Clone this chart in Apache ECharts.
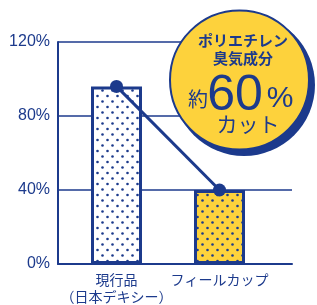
<!DOCTYPE html>
<html>
<head>
<meta charset="utf-8">
<script src="https://cdn.jsdelivr.net/npm/echarts@6/dist/echarts.min.js"></script>
<style>
html,body{margin:0;padding:0;background:#fff;}
#c{width:317px;height:305px;}
</style>
</head>
<body>
<div id="c"></div>
<script>
var categories = ['現行品\n（日本デキシー）', 'フィールカップ'];
var odorValues = [96, 40];
var yTicks = [0, 40, 80, 120];

var NAVY = '#1c3a8c';
var YELLOW = '#fdd23c';
var FONT = '"Noto Sans CJK JP", "Noto Sans", sans-serif';
var NUMFONT = '"Liberation Sans", "Noto Sans", sans-serif';

function dotPattern(bg) {
  var cv = document.createElement('canvas');
  cv.width = 10; cv.height = 11;
  var ctx = cv.getContext('2d');
  ctx.fillStyle = bg; ctx.fillRect(0, 0, 10, 11);
  ctx.fillStyle = NAVY;
  [[2.5, 2.5], [7.5, 8]].forEach(function (p) {
    ctx.beginPath(); ctx.arc(p[0], p[1], 1.3, 0, Math.PI * 2); ctx.fill();
  });
  return { image: cv, repeat: 'repeat' };
}
var barFills = [dotPattern('#ffffff'), dotPattern(YELLOW)];

var chart = echarts.init(document.getElementById('c'));
var yMin = yTicks[0], yMax = yTicks[yTicks.length - 1], yStep = yTicks[1] - yTicks[0];

chart.setOption({
  animation: false,
  grid: [
    { left: 58, right: 25, top: 42, bottom: 41 },
    { left: 65, width: 206, top: 42, bottom: 41 }
  ],
  xAxis: [
    { gridIndex: 0, type: 'category', data: categories,
      axisLine: { show: true, lineStyle: { color: NAVY, width: 2 } },
      axisTick: { show: false }, axisLabel: { show: false } },
    { gridIndex: 1, type: 'category', data: categories,
      axisLine: { show: false }, axisTick: { show: false },
      axisLabel: { interval: 0, color: NAVY, fontSize: 14, fontFamily: FONT, lineHeight: 17, margin: 7 } }
  ],
  yAxis: [
    { gridIndex: 0, type: 'value', min: yMin, max: yMax, interval: yStep,
      axisLine: { show: true, lineStyle: { color: NAVY, width: 2 } },
      axisTick: { show: false },
      splitLine: { show: true, lineStyle: { color: NAVY, width: 1.5 } },
      axisLabel: { color: NAVY, fontSize: 16, fontFamily: NUMFONT, margin: 8, formatter: '{value}%' } },
    { gridIndex: 1, type: 'value', min: yMin, max: yMax, interval: yStep, show: false }
  ],
  series: [
    { type: 'bar', xAxisIndex: 1, yAxisIndex: 1, barWidth: 51, z: 3,
      data: odorValues.map(function (v, i) {
        return { value: v, itemStyle: { color: barFills[i], borderColor: NAVY, borderWidth: 3 } };
      }) },
    { type: 'line', xAxisIndex: 1, yAxisIndex: 1, data: odorValues, z: 5,
      symbol: 'circle', symbolSize: 13,
      lineStyle: { color: NAVY, width: 3 }, itemStyle: { color: NAVY } }
  ],
  graphic: [
    { type: 'circle', shape: { cx: 244, cy: 85, r: 71 }, style: { fill: NAVY }, z: 100 },
    { type: 'circle', shape: { cx: 239.5, cy: 80, r: 69.5 }, style: { fill: YELLOW, stroke: NAVY, lineWidth: 2 }, z: 101 },
    { type: 'text', x: 243, y: 40, z: 102, style: { text: 'ポリエチレン', fill: NAVY, fontSize: 15, fontWeight: 'bold', fontFamily: FONT, align: 'center', verticalAlign: 'middle' } },
    { type: 'text', x: 243, y: 58, z: 102, style: { text: '臭気成分', fill: NAVY, fontSize: 15, fontWeight: 'bold', fontFamily: FONT, align: 'center', verticalAlign: 'middle' } },
    { type: 'text', x: 198, y: 99, z: 102, style: { text: '約', fill: NAVY, fontSize: 20, fontFamily: FONT, align: 'center', verticalAlign: 'middle' } },
    { type: 'text', x: 235, y: 96, z: 102, style: { text: '60', fill: NAVY, fontSize: 50, fontFamily: NUMFONT, align: 'center', verticalAlign: 'middle' } },
    { type: 'text', x: 280, y: 99, z: 102, style: { text: '%', fill: NAVY, fontSize: 30, fontFamily: NUMFONT, align: 'center', verticalAlign: 'middle' } },
    { type: 'text', x: 248, y: 124, z: 102, style: { text: 'カット', fill: NAVY, fontSize: 21, fontFamily: FONT, align: 'center', verticalAlign: 'middle' } }
  ]
});
</script>
</body>
</html>
